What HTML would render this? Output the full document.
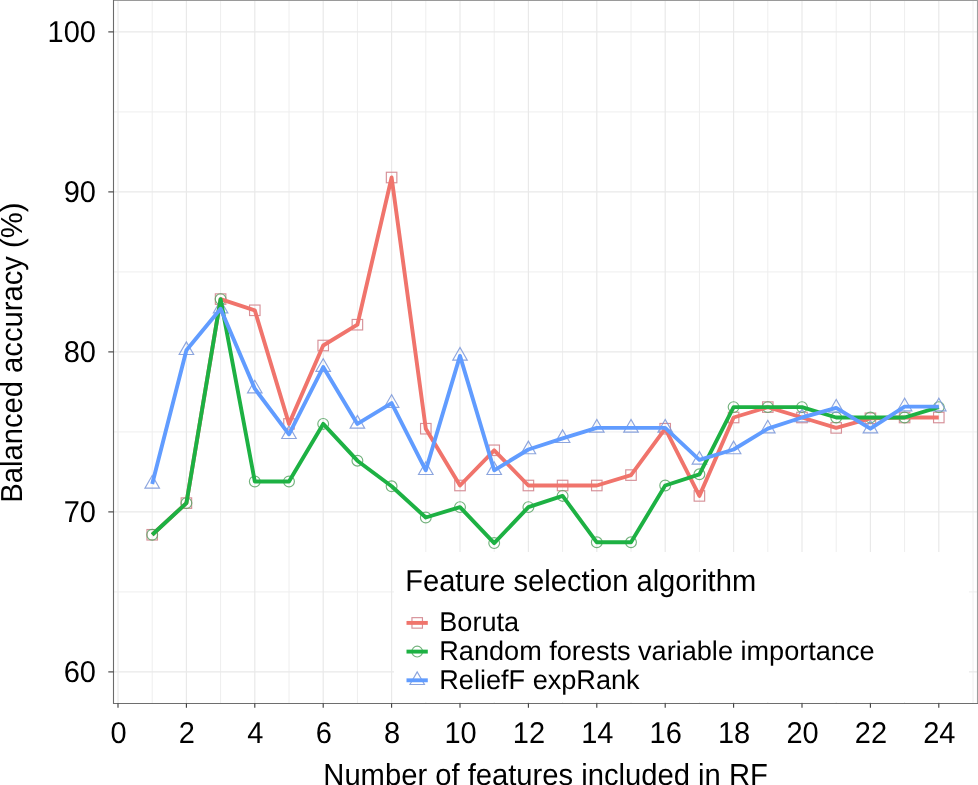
<!DOCTYPE html><html><head><meta charset="utf-8"><style>html,body{margin:0;padding:0;background:#fff}body{width:978px;height:785px;overflow:hidden}svg{display:block;will-change:transform}text{font-family:"Liberation Sans",sans-serif;fill:#000;text-rendering:geometricPrecision}</style></head><body>
<svg width="978" height="785" viewBox="0 0 978 785">
<rect x="0" y="0" width="978" height="785" fill="#fff"/>
<defs><clipPath id="pc"><rect x="113.5" y="0.5" width="864.0" height="703.0"/></clipPath></defs>
<g clip-path="url(#pc)">
<line x1="113.5" x2="977.5" y1="591.90" y2="591.90" stroke="#eeeeee" stroke-width="1"/>
<line x1="113.5" x2="977.5" y1="431.90" y2="431.90" stroke="#eeeeee" stroke-width="1"/>
<line x1="113.5" x2="977.5" y1="271.90" y2="271.90" stroke="#eeeeee" stroke-width="1"/>
<line x1="113.5" x2="977.5" y1="111.90" y2="111.90" stroke="#eeeeee" stroke-width="1"/>
<line x1="83.80" x2="83.80" y1="0.5" y2="703.5" stroke="#eeeeee" stroke-width="1"/>
<line x1="152.20" x2="152.20" y1="0.5" y2="703.5" stroke="#eeeeee" stroke-width="1"/>
<line x1="220.60" x2="220.60" y1="0.5" y2="703.5" stroke="#eeeeee" stroke-width="1"/>
<line x1="289.00" x2="289.00" y1="0.5" y2="703.5" stroke="#eeeeee" stroke-width="1"/>
<line x1="357.40" x2="357.40" y1="0.5" y2="703.5" stroke="#eeeeee" stroke-width="1"/>
<line x1="425.80" x2="425.80" y1="0.5" y2="703.5" stroke="#eeeeee" stroke-width="1"/>
<line x1="494.20" x2="494.20" y1="0.5" y2="703.5" stroke="#eeeeee" stroke-width="1"/>
<line x1="562.60" x2="562.60" y1="0.5" y2="703.5" stroke="#eeeeee" stroke-width="1"/>
<line x1="631.00" x2="631.00" y1="0.5" y2="703.5" stroke="#eeeeee" stroke-width="1"/>
<line x1="699.40" x2="699.40" y1="0.5" y2="703.5" stroke="#eeeeee" stroke-width="1"/>
<line x1="767.80" x2="767.80" y1="0.5" y2="703.5" stroke="#eeeeee" stroke-width="1"/>
<line x1="836.20" x2="836.20" y1="0.5" y2="703.5" stroke="#eeeeee" stroke-width="1"/>
<line x1="904.60" x2="904.60" y1="0.5" y2="703.5" stroke="#eeeeee" stroke-width="1"/>
<line x1="973.00" x2="973.00" y1="0.5" y2="703.5" stroke="#eeeeee" stroke-width="1"/>
<line x1="113.5" x2="977.5" y1="671.90" y2="671.90" stroke="#e9e9e9" stroke-width="1.2"/>
<line x1="113.5" x2="977.5" y1="511.90" y2="511.90" stroke="#e9e9e9" stroke-width="1.2"/>
<line x1="113.5" x2="977.5" y1="351.90" y2="351.90" stroke="#e9e9e9" stroke-width="1.2"/>
<line x1="113.5" x2="977.5" y1="191.90" y2="191.90" stroke="#e9e9e9" stroke-width="1.2"/>
<line x1="113.5" x2="977.5" y1="31.90" y2="31.90" stroke="#e9e9e9" stroke-width="1.2"/>
<line x1="118.00" x2="118.00" y1="0.5" y2="703.5" stroke="#e9e9e9" stroke-width="1.2"/>
<line x1="186.40" x2="186.40" y1="0.5" y2="703.5" stroke="#e9e9e9" stroke-width="1.2"/>
<line x1="254.80" x2="254.80" y1="0.5" y2="703.5" stroke="#e9e9e9" stroke-width="1.2"/>
<line x1="323.20" x2="323.20" y1="0.5" y2="703.5" stroke="#e9e9e9" stroke-width="1.2"/>
<line x1="391.60" x2="391.60" y1="0.5" y2="703.5" stroke="#e9e9e9" stroke-width="1.2"/>
<line x1="460.00" x2="460.00" y1="0.5" y2="703.5" stroke="#e9e9e9" stroke-width="1.2"/>
<line x1="528.40" x2="528.40" y1="0.5" y2="703.5" stroke="#e9e9e9" stroke-width="1.2"/>
<line x1="596.80" x2="596.80" y1="0.5" y2="703.5" stroke="#e9e9e9" stroke-width="1.2"/>
<line x1="665.20" x2="665.20" y1="0.5" y2="703.5" stroke="#e9e9e9" stroke-width="1.2"/>
<line x1="733.60" x2="733.60" y1="0.5" y2="703.5" stroke="#e9e9e9" stroke-width="1.2"/>
<line x1="802.00" x2="802.00" y1="0.5" y2="703.5" stroke="#e9e9e9" stroke-width="1.2"/>
<line x1="870.40" x2="870.40" y1="0.5" y2="703.5" stroke="#e9e9e9" stroke-width="1.2"/>
<line x1="938.80" x2="938.80" y1="0.5" y2="703.5" stroke="#e9e9e9" stroke-width="1.2"/>
</g>
<rect x="146.95" y="529.53" width="10.50" height="10.50" fill="none" stroke="#cf7d86" stroke-width="1.15" stroke-opacity="0.85"/>
<rect x="181.15" y="497.85" width="10.50" height="10.50" fill="none" stroke="#cf7d86" stroke-width="1.15" stroke-opacity="0.85"/>
<rect x="215.35" y="293.85" width="10.50" height="10.50" fill="none" stroke="#cf7d86" stroke-width="1.15" stroke-opacity="0.85"/>
<rect x="249.55" y="305.05" width="10.50" height="10.50" fill="none" stroke="#cf7d86" stroke-width="1.15" stroke-opacity="0.85"/>
<rect x="283.75" y="418.65" width="10.50" height="10.50" fill="none" stroke="#cf7d86" stroke-width="1.15" stroke-opacity="0.85"/>
<rect x="317.95" y="340.25" width="10.50" height="10.50" fill="none" stroke="#cf7d86" stroke-width="1.15" stroke-opacity="0.85"/>
<rect x="352.15" y="319.45" width="10.50" height="10.50" fill="none" stroke="#cf7d86" stroke-width="1.15" stroke-opacity="0.85"/>
<rect x="386.35" y="172.25" width="10.50" height="10.50" fill="none" stroke="#cf7d86" stroke-width="1.15" stroke-opacity="0.85"/>
<rect x="420.55" y="423.45" width="10.50" height="10.50" fill="none" stroke="#cf7d86" stroke-width="1.15" stroke-opacity="0.85"/>
<rect x="454.75" y="480.25" width="10.50" height="10.50" fill="none" stroke="#cf7d86" stroke-width="1.15" stroke-opacity="0.85"/>
<rect x="488.95" y="445.05" width="10.50" height="10.50" fill="none" stroke="#cf7d86" stroke-width="1.15" stroke-opacity="0.85"/>
<rect x="523.15" y="480.25" width="10.50" height="10.50" fill="none" stroke="#cf7d86" stroke-width="1.15" stroke-opacity="0.85"/>
<rect x="557.35" y="480.25" width="10.50" height="10.50" fill="none" stroke="#cf7d86" stroke-width="1.15" stroke-opacity="0.85"/>
<rect x="591.55" y="480.25" width="10.50" height="10.50" fill="none" stroke="#cf7d86" stroke-width="1.15" stroke-opacity="0.85"/>
<rect x="625.75" y="469.85" width="10.50" height="10.50" fill="none" stroke="#cf7d86" stroke-width="1.15" stroke-opacity="0.85"/>
<rect x="659.95" y="423.45" width="10.50" height="10.50" fill="none" stroke="#cf7d86" stroke-width="1.15" stroke-opacity="0.85"/>
<rect x="694.15" y="490.65" width="10.50" height="10.50" fill="none" stroke="#cf7d86" stroke-width="1.15" stroke-opacity="0.85"/>
<rect x="728.35" y="412.25" width="10.50" height="10.50" fill="none" stroke="#cf7d86" stroke-width="1.15" stroke-opacity="0.85"/>
<rect x="762.55" y="401.85" width="10.50" height="10.50" fill="none" stroke="#cf7d86" stroke-width="1.15" stroke-opacity="0.85"/>
<rect x="796.75" y="412.25" width="10.50" height="10.50" fill="none" stroke="#cf7d86" stroke-width="1.15" stroke-opacity="0.85"/>
<rect x="830.95" y="422.65" width="10.50" height="10.50" fill="none" stroke="#cf7d86" stroke-width="1.15" stroke-opacity="0.85"/>
<rect x="865.15" y="413.05" width="10.50" height="10.50" fill="none" stroke="#cf7d86" stroke-width="1.15" stroke-opacity="0.85"/>
<rect x="899.35" y="412.25" width="10.50" height="10.50" fill="none" stroke="#cf7d86" stroke-width="1.15" stroke-opacity="0.85"/>
<rect x="933.55" y="412.25" width="10.50" height="10.50" fill="none" stroke="#cf7d86" stroke-width="1.15" stroke-opacity="0.85"/>
<circle cx="152.20" cy="534.78" r="5.40" fill="none" stroke="#5aa566" stroke-width="1.15" stroke-opacity="0.85"/>
<circle cx="186.40" cy="503.10" r="5.40" fill="none" stroke="#5aa566" stroke-width="1.15" stroke-opacity="0.85"/>
<circle cx="220.60" cy="299.10" r="5.40" fill="none" stroke="#5aa566" stroke-width="1.15" stroke-opacity="0.85"/>
<circle cx="254.80" cy="481.50" r="5.40" fill="none" stroke="#5aa566" stroke-width="1.15" stroke-opacity="0.85"/>
<circle cx="289.00" cy="481.50" r="5.40" fill="none" stroke="#5aa566" stroke-width="1.15" stroke-opacity="0.85"/>
<circle cx="323.20" cy="423.90" r="5.40" fill="none" stroke="#5aa566" stroke-width="1.15" stroke-opacity="0.85"/>
<circle cx="357.40" cy="460.70" r="5.40" fill="none" stroke="#5aa566" stroke-width="1.15" stroke-opacity="0.85"/>
<circle cx="391.60" cy="486.30" r="5.40" fill="none" stroke="#5aa566" stroke-width="1.15" stroke-opacity="0.85"/>
<circle cx="425.80" cy="517.50" r="5.40" fill="none" stroke="#5aa566" stroke-width="1.15" stroke-opacity="0.85"/>
<circle cx="460.00" cy="507.10" r="5.40" fill="none" stroke="#5aa566" stroke-width="1.15" stroke-opacity="0.85"/>
<circle cx="494.20" cy="543.10" r="5.40" fill="none" stroke="#5aa566" stroke-width="1.15" stroke-opacity="0.85"/>
<circle cx="528.40" cy="507.10" r="5.40" fill="none" stroke="#5aa566" stroke-width="1.15" stroke-opacity="0.85"/>
<circle cx="562.60" cy="495.90" r="5.40" fill="none" stroke="#5aa566" stroke-width="1.15" stroke-opacity="0.85"/>
<circle cx="596.80" cy="542.30" r="5.40" fill="none" stroke="#5aa566" stroke-width="1.15" stroke-opacity="0.85"/>
<circle cx="631.00" cy="542.30" r="5.40" fill="none" stroke="#5aa566" stroke-width="1.15" stroke-opacity="0.85"/>
<circle cx="665.20" cy="485.50" r="5.40" fill="none" stroke="#5aa566" stroke-width="1.15" stroke-opacity="0.85"/>
<circle cx="699.40" cy="474.30" r="5.40" fill="none" stroke="#5aa566" stroke-width="1.15" stroke-opacity="0.85"/>
<circle cx="733.60" cy="407.10" r="5.40" fill="none" stroke="#5aa566" stroke-width="1.15" stroke-opacity="0.85"/>
<circle cx="767.80" cy="407.10" r="5.40" fill="none" stroke="#5aa566" stroke-width="1.15" stroke-opacity="0.85"/>
<circle cx="802.00" cy="407.10" r="5.40" fill="none" stroke="#5aa566" stroke-width="1.15" stroke-opacity="0.85"/>
<circle cx="836.20" cy="417.50" r="5.40" fill="none" stroke="#5aa566" stroke-width="1.15" stroke-opacity="0.85"/>
<circle cx="870.40" cy="417.50" r="5.40" fill="none" stroke="#5aa566" stroke-width="1.15" stroke-opacity="0.85"/>
<circle cx="904.60" cy="417.50" r="5.40" fill="none" stroke="#5aa566" stroke-width="1.15" stroke-opacity="0.85"/>
<circle cx="938.80" cy="407.10" r="5.40" fill="none" stroke="#5aa566" stroke-width="1.15" stroke-opacity="0.85"/>
<polygon points="152.20,475.50 144.93,488.10 159.47,488.10" fill="none" stroke="#7895d8" stroke-width="1.15" stroke-opacity="0.85"/>
<polygon points="186.40,341.90 179.13,354.50 193.67,354.50" fill="none" stroke="#7895d8" stroke-width="1.15" stroke-opacity="0.85"/>
<polygon points="220.60,300.30 213.33,312.90 227.87,312.90" fill="none" stroke="#7895d8" stroke-width="1.15" stroke-opacity="0.85"/>
<polygon points="254.80,380.30 247.53,392.90 262.07,392.90" fill="none" stroke="#7895d8" stroke-width="1.15" stroke-opacity="0.85"/>
<polygon points="289.00,425.90 281.73,438.50 296.27,438.50" fill="none" stroke="#7895d8" stroke-width="1.15" stroke-opacity="0.85"/>
<polygon points="323.20,358.70 315.93,371.30 330.47,371.30" fill="none" stroke="#7895d8" stroke-width="1.15" stroke-opacity="0.85"/>
<polygon points="357.40,415.50 350.13,428.10 364.67,428.10" fill="none" stroke="#7895d8" stroke-width="1.15" stroke-opacity="0.85"/>
<polygon points="391.60,394.70 384.33,407.30 398.87,407.30" fill="none" stroke="#7895d8" stroke-width="1.15" stroke-opacity="0.85"/>
<polygon points="425.80,461.90 418.53,474.50 433.07,474.50" fill="none" stroke="#7895d8" stroke-width="1.15" stroke-opacity="0.85"/>
<polygon points="460.00,347.50 452.73,360.10 467.27,360.10" fill="none" stroke="#7895d8" stroke-width="1.15" stroke-opacity="0.85"/>
<polygon points="494.20,461.90 486.93,474.50 501.47,474.50" fill="none" stroke="#7895d8" stroke-width="1.15" stroke-opacity="0.85"/>
<polygon points="528.40,441.10 521.13,453.70 535.67,453.70" fill="none" stroke="#7895d8" stroke-width="1.15" stroke-opacity="0.85"/>
<polygon points="562.60,429.90 555.33,442.50 569.87,442.50" fill="none" stroke="#7895d8" stroke-width="1.15" stroke-opacity="0.85"/>
<polygon points="596.80,419.50 589.53,432.10 604.07,432.10" fill="none" stroke="#7895d8" stroke-width="1.15" stroke-opacity="0.85"/>
<polygon points="631.00,419.50 623.73,432.10 638.27,432.10" fill="none" stroke="#7895d8" stroke-width="1.15" stroke-opacity="0.85"/>
<polygon points="665.20,419.50 657.93,432.10 672.47,432.10" fill="none" stroke="#7895d8" stroke-width="1.15" stroke-opacity="0.85"/>
<polygon points="699.40,451.50 692.13,464.10 706.67,464.10" fill="none" stroke="#7895d8" stroke-width="1.15" stroke-opacity="0.85"/>
<polygon points="733.60,441.10 726.33,453.70 740.87,453.70" fill="none" stroke="#7895d8" stroke-width="1.15" stroke-opacity="0.85"/>
<polygon points="767.80,420.30 760.53,432.90 775.07,432.90" fill="none" stroke="#7895d8" stroke-width="1.15" stroke-opacity="0.85"/>
<polygon points="802.00,409.10 794.73,421.70 809.27,421.70" fill="none" stroke="#7895d8" stroke-width="1.15" stroke-opacity="0.85"/>
<polygon points="836.20,399.50 828.93,412.10 843.47,412.10" fill="none" stroke="#7895d8" stroke-width="1.15" stroke-opacity="0.85"/>
<polygon points="870.40,420.30 863.13,432.90 877.67,432.90" fill="none" stroke="#7895d8" stroke-width="1.15" stroke-opacity="0.85"/>
<polygon points="904.60,398.22 897.33,410.82 911.87,410.82" fill="none" stroke="#7895d8" stroke-width="1.15" stroke-opacity="0.85"/>
<polygon points="938.80,398.22 931.53,410.82 946.07,410.82" fill="none" stroke="#7895d8" stroke-width="1.15" stroke-opacity="0.85"/>
<polyline points="152.20,534.78 186.40,503.10 220.60,299.10 254.80,310.30 289.00,423.90 323.20,345.50 357.40,324.70 391.60,177.50 425.80,428.70 460.00,485.50 494.20,450.30 528.40,485.50 562.60,485.50 596.80,485.50 631.00,475.10 665.20,428.70 699.40,495.90 733.60,417.50 767.80,407.10 802.00,417.50 836.20,427.90 870.40,418.30 904.60,417.50 938.80,417.50" fill="none" stroke="#F0746C" stroke-width="3.9" stroke-linejoin="round" stroke-linecap="butt"/>
<polyline points="152.20,534.78 186.40,503.10 220.60,299.10 254.80,481.50 289.00,481.50 323.20,423.90 357.40,460.70 391.60,486.30 425.80,517.50 460.00,507.10 494.20,543.10 528.40,507.10 562.60,495.90 596.80,542.30 631.00,542.30 665.20,485.50 699.40,474.30 733.60,407.10 767.80,407.10 802.00,407.10 836.20,417.50 870.40,417.50 904.60,417.50 938.80,407.10" fill="none" stroke="#1DB143" stroke-width="3.9" stroke-linejoin="round" stroke-linecap="butt"/>
<polyline points="152.20,483.90 186.40,350.30 220.60,308.70 254.80,388.70 289.00,434.30 323.20,367.10 357.40,423.90 391.60,403.10 425.80,470.30 460.00,355.90 494.20,470.30 528.40,449.50 562.60,438.30 596.80,427.90 631.00,427.90 665.20,427.90 699.40,459.90 733.60,449.50 767.80,428.70 802.00,417.50 836.20,407.90 870.40,428.70 904.60,406.62 938.80,406.62" fill="none" stroke="#619CFF" stroke-width="3.9" stroke-linejoin="round" stroke-linecap="butt"/>
<rect x="394" y="552" width="575" height="150" fill="#fff"/>
<text transform="translate(405.20,590.70) scale(1,1.040)" font-size="29.1">Feature selection algorithm</text>
<rect x="411.95" y="617.65" width="10.50" height="10.50" fill="none" stroke="#cf7d86" stroke-width="1.15" stroke-opacity="0.85"/>
<line x1="406.5" x2="427.8" y1="622.9" y2="622.9" stroke="#F0746C" stroke-width="3.9"/>
<text transform="translate(439.30,631.10) scale(1,1.000)" font-size="27.1">Boruta</text>
<circle cx="417.20" cy="651.60" r="5.40" fill="none" stroke="#5aa566" stroke-width="1.15" stroke-opacity="0.85"/>
<line x1="406.5" x2="427.8" y1="651.6" y2="651.6" stroke="#1DB143" stroke-width="3.9"/>
<text transform="translate(439.30,659.80) scale(1,1.000)" font-size="27.1">Random forests variable importance</text>
<polygon points="417.20,671.90 409.93,684.50 424.47,684.50" fill="none" stroke="#7895d8" stroke-width="1.15" stroke-opacity="0.85"/>
<line x1="406.5" x2="427.8" y1="680.3" y2="680.3" stroke="#619CFF" stroke-width="3.9"/>
<text transform="translate(439.30,688.50) scale(1,1.000)" font-size="27.1">ReliefF expRank</text>
<line x1="113.5" x2="978.1" y1="0.5" y2="0.5" stroke="#9a9a9a" stroke-width="1.2"/>
<line x1="977.5" x2="977.5" y1="0.5" y2="703.5" stroke="#a0a0a0" stroke-width="1.1"/>
<line x1="113.5" x2="113.5" y1="-0.1" y2="704.0" stroke="#6b6b6b" stroke-width="1.1"/>
<line x1="113.5" x2="978.1" y1="703.5" y2="703.5" stroke="#6e6e6e" stroke-width="1.1"/>
<line x1="108.3" x2="113.5" y1="671.90" y2="671.90" stroke="#3a3a3a" stroke-width="1.1"/>
<text transform="translate(96.00,682.20) scale(1,1.040)" font-size="29.0" text-anchor="end">60</text>
<line x1="108.3" x2="113.5" y1="511.90" y2="511.90" stroke="#3a3a3a" stroke-width="1.1"/>
<text transform="translate(96.00,522.20) scale(1,1.040)" font-size="29.0" text-anchor="end">70</text>
<line x1="108.3" x2="113.5" y1="351.90" y2="351.90" stroke="#3a3a3a" stroke-width="1.1"/>
<text transform="translate(96.00,362.20) scale(1,1.040)" font-size="29.0" text-anchor="end">80</text>
<line x1="108.3" x2="113.5" y1="191.90" y2="191.90" stroke="#3a3a3a" stroke-width="1.1"/>
<text transform="translate(96.00,202.20) scale(1,1.040)" font-size="29.0" text-anchor="end">90</text>
<line x1="108.3" x2="113.5" y1="31.90" y2="31.90" stroke="#3a3a3a" stroke-width="1.1"/>
<text transform="translate(96.00,42.20) scale(1,1.040)" font-size="29.0" text-anchor="end">100</text>
<line x1="118.00" x2="118.00" y1="703.5" y2="707.8" stroke="#3a3a3a" stroke-width="1.1"/>
<text transform="translate(118.50,742.50) scale(1,1.040)" font-size="29.0" text-anchor="middle">0</text>
<line x1="186.40" x2="186.40" y1="703.5" y2="707.8" stroke="#3a3a3a" stroke-width="1.1"/>
<text transform="translate(186.90,742.50) scale(1,1.040)" font-size="29.0" text-anchor="middle">2</text>
<line x1="254.80" x2="254.80" y1="703.5" y2="707.8" stroke="#3a3a3a" stroke-width="1.1"/>
<text transform="translate(255.30,742.50) scale(1,1.040)" font-size="29.0" text-anchor="middle">4</text>
<line x1="323.20" x2="323.20" y1="703.5" y2="707.8" stroke="#3a3a3a" stroke-width="1.1"/>
<text transform="translate(323.70,742.50) scale(1,1.040)" font-size="29.0" text-anchor="middle">6</text>
<line x1="391.60" x2="391.60" y1="703.5" y2="707.8" stroke="#3a3a3a" stroke-width="1.1"/>
<text transform="translate(392.10,742.50) scale(1,1.040)" font-size="29.0" text-anchor="middle">8</text>
<line x1="460.00" x2="460.00" y1="703.5" y2="707.8" stroke="#3a3a3a" stroke-width="1.1"/>
<text transform="translate(460.50,742.50) scale(1,1.040)" font-size="29.0" text-anchor="middle">10</text>
<line x1="528.40" x2="528.40" y1="703.5" y2="707.8" stroke="#3a3a3a" stroke-width="1.1"/>
<text transform="translate(528.90,742.50) scale(1,1.040)" font-size="29.0" text-anchor="middle">12</text>
<line x1="596.80" x2="596.80" y1="703.5" y2="707.8" stroke="#3a3a3a" stroke-width="1.1"/>
<text transform="translate(597.30,742.50) scale(1,1.040)" font-size="29.0" text-anchor="middle">14</text>
<line x1="665.20" x2="665.20" y1="703.5" y2="707.8" stroke="#3a3a3a" stroke-width="1.1"/>
<text transform="translate(665.70,742.50) scale(1,1.040)" font-size="29.0" text-anchor="middle">16</text>
<line x1="733.60" x2="733.60" y1="703.5" y2="707.8" stroke="#3a3a3a" stroke-width="1.1"/>
<text transform="translate(734.10,742.50) scale(1,1.040)" font-size="29.0" text-anchor="middle">18</text>
<line x1="802.00" x2="802.00" y1="703.5" y2="707.8" stroke="#3a3a3a" stroke-width="1.1"/>
<text transform="translate(802.50,742.50) scale(1,1.040)" font-size="29.0" text-anchor="middle">20</text>
<line x1="870.40" x2="870.40" y1="703.5" y2="707.8" stroke="#3a3a3a" stroke-width="1.1"/>
<text transform="translate(870.90,742.50) scale(1,1.040)" font-size="29.0" text-anchor="middle">22</text>
<line x1="938.80" x2="938.80" y1="703.5" y2="707.8" stroke="#3a3a3a" stroke-width="1.1"/>
<text transform="translate(939.30,742.50) scale(1,1.040)" font-size="29.0" text-anchor="middle">24</text>
<text transform="translate(323.30,785.00) scale(1,1.040)" font-size="29.2">Number of features included in RF</text>
<text transform="translate(22.00,502.70) rotate(-90) scale(1,1.040)" font-size="29.2">Balanced accuracy (%)</text>
</svg></body></html>
